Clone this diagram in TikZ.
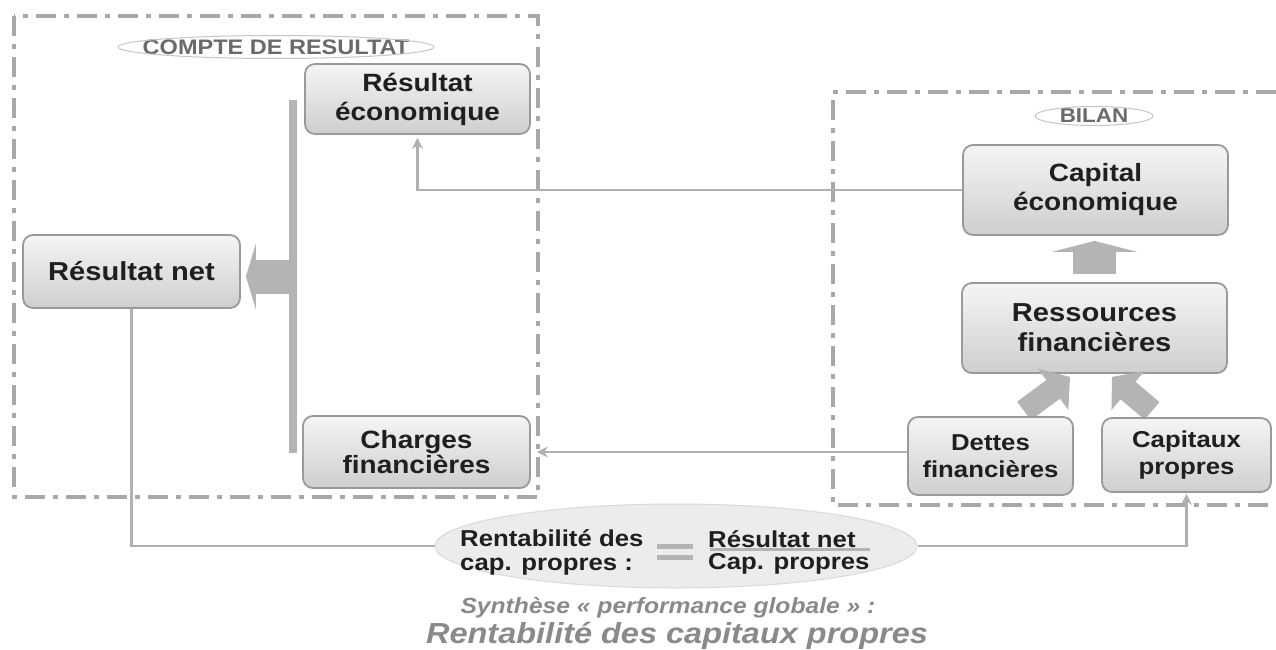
\documentclass[tikz,border=0pt]{standalone}
\usepackage{fontspec}
\setmainfont{Liberation Sans}[FakeStretch=1.12]
\usetikzlibrary{shapes.geometric,arrows.meta}
\definecolor{dashc}{HTML}{A8A8A8}
\definecolor{arrc}{HTML}{B4B4B4}
\definecolor{linec}{HTML}{B0B0B0}
\definecolor{boxline}{HTML}{9A9A9A}
\definecolor{txtgray}{HTML}{8A8A8A}
\definecolor{titlegray}{HTML}{6A6A6A}
\tikzset{
  dashbox/.style={draw=dashc, line width=4pt, dash pattern=on 20pt off 8pt on 5pt off 8pt},
  box/.style={rectangle, rounded corners=10pt, draw=boxline, line width=1.8pt,
    top color=gray!8, bottom color=gray!38, text=black!88, align=center, inner sep=0pt},
  bigtxt/.style={font=\bfseries\fontsize{25}{29}\selectfont},
  smalltxt/.style={font=\bfseries\fontsize{23}{27}\selectfont},
  titletxt/.style={font=\bfseries\fontsize{20}{22}\selectfont, text=titlegray, inner sep=0pt},
  ftext/.style={font=\bfseries\fontsize{23}{24}\selectfont, text=black!88, inner sep=0pt, align=left},
  conn/.style={draw=linec, line width=2.5pt, -{Stealth[length=11pt,width=11pt]}},
  plainline/.style={draw=linec, line width=2.5pt},
  fatarrow/.style={draw=arrc}
}
\begin{document}
\begin{tikzpicture}[x=1pt,y=-1pt]
\fill[white] (0,0) rectangle (1276,650);
\useasboundingbox (0,0) rectangle (1276,650);
% frames
\draw[dashbox] (14,16) rectangle (538,497);
\draw[dashbox] (1276,92) -- (833,92) -- (833,505) -- (1276,505);
% titles
\node[titletxt, font=\bfseries\fontsize{21}{22}\selectfont] (cdr) at (276,47) {COMPTE DE RESULTAT};
\draw[gray!45, line width=1pt] (cdr.center) ellipse [x radius=158, y radius=11.5];
\node[titletxt] (bilan) at (1094,116) {BILAN};
\draw[gray!45, line width=1pt] (bilan.center) ellipse [x radius=59, y radius=9.5];
% vertical bar
\node[fill=arrc, minimum width=8, minimum height=353, inner sep=0pt] (bar) at (293,276.5) {};
% left column
\node[box, bigtxt, minimum width=225, minimum height=70] (reseco) at (417.5,99) {Résultat\\économique};
\node[box, font=\bfseries\fontsize{26}{29}\selectfont, minimum width=217, minimum height=73] (resnet) at (131.5,271.5) {Résultat net};
\node[box, font=\bfseries\fontsize{25}{25}\selectfont, minimum width=227, minimum height=72] (charges) at (416.5,452) {Charges\\financières};
\draw[fatarrow, line width=34pt, -{Triangle[length=10pt,width=66pt]}, shorten >=5pt] (bar.west) -- (bar.west -| resnet.east);
% right column
\node[box, bigtxt, minimum width=265, minimum height=90] (capital) at (1095.5,190) {Capital\\économique};
\node[box, font=\bfseries\fontsize{26}{30}\selectfont, minimum width=265, minimum height=90] (ressources) at (1094.5,328) {Ressources\\financières};
\draw[fatarrow, line width=43pt, -{Triangle[length=11pt,width=85pt]}, shorten <=8pt, shorten >=5pt] (ressources.north) -- (ressources.north |- capital.south);
% diagonal fat arrows
\coordinate (dt) at ([xshift=-70.5pt,yshift=-37pt]ressources.south);
\coordinate (ct) at ([xshift=57.5pt,yshift=-37pt]ressources.south);
\draw[fatarrow, line width=23pt, -{Triangle[length=21pt,width=50pt]}] (dt) -- ([xshift=-24.5pt,yshift=-3pt]ressources.south);
\draw[fatarrow, line width=23pt, -{Triangle[length=21pt,width=50pt]}] (ct) -- ([xshift=17.5pt,yshift=-3pt]ressources.south);
\node[box, smalltxt, minimum width=165, minimum height=78] (dettes) at (990.5,456) {Dettes\\financières};
\node[box, smalltxt, minimum width=169, minimum height=74] (capitaux) at (1186.5,455) {Capitaux\\propres};
% formula
\node[ellipse, draw=gray!30, line width=1pt, fill=gray!15, minimum width=482, minimum height=84, inner sep=0pt] (formula) at (676,546) {};
\node[ftext, anchor=west] (fl) at (460,552) {Rentabilité des\\cap. propres :};
\node[ftext, anchor=west] (num) at (708,539) {Résultat net};
\node[ftext, anchor=west] (den) at (708,564) {Cap. propres};
\fill[arrc] (710,547.5) rectangle (870,551);
\fill[arrc] (657,544) rectangle (693,548.5);
\fill[arrc] (657,555) rectangle (693,559.5);
% connectors
\draw[conn, shorten >=3pt] (capital.west) -| (reseco.south);
\draw[conn, shorten >=6pt] (dettes.west |- charges.east) -- (charges.east);
\draw[plainline] (resnet.south) |- (formula.west);
\draw[conn, shorten >=1pt] (formula.east) -| (capitaux.south);
% captions
\node[font=\bfseries\itshape\fontsize{22}{26}\selectfont, text=txtgray] (syn) at (668,608) {Synthèse « performance globale » :};
\node[font=\bfseries\itshape\fontsize{29}{32}\selectfont, text=txtgray] (rcp) at (677,636) {Rentabilité des capitaux propres};
\end{tikzpicture}
\end{document}
